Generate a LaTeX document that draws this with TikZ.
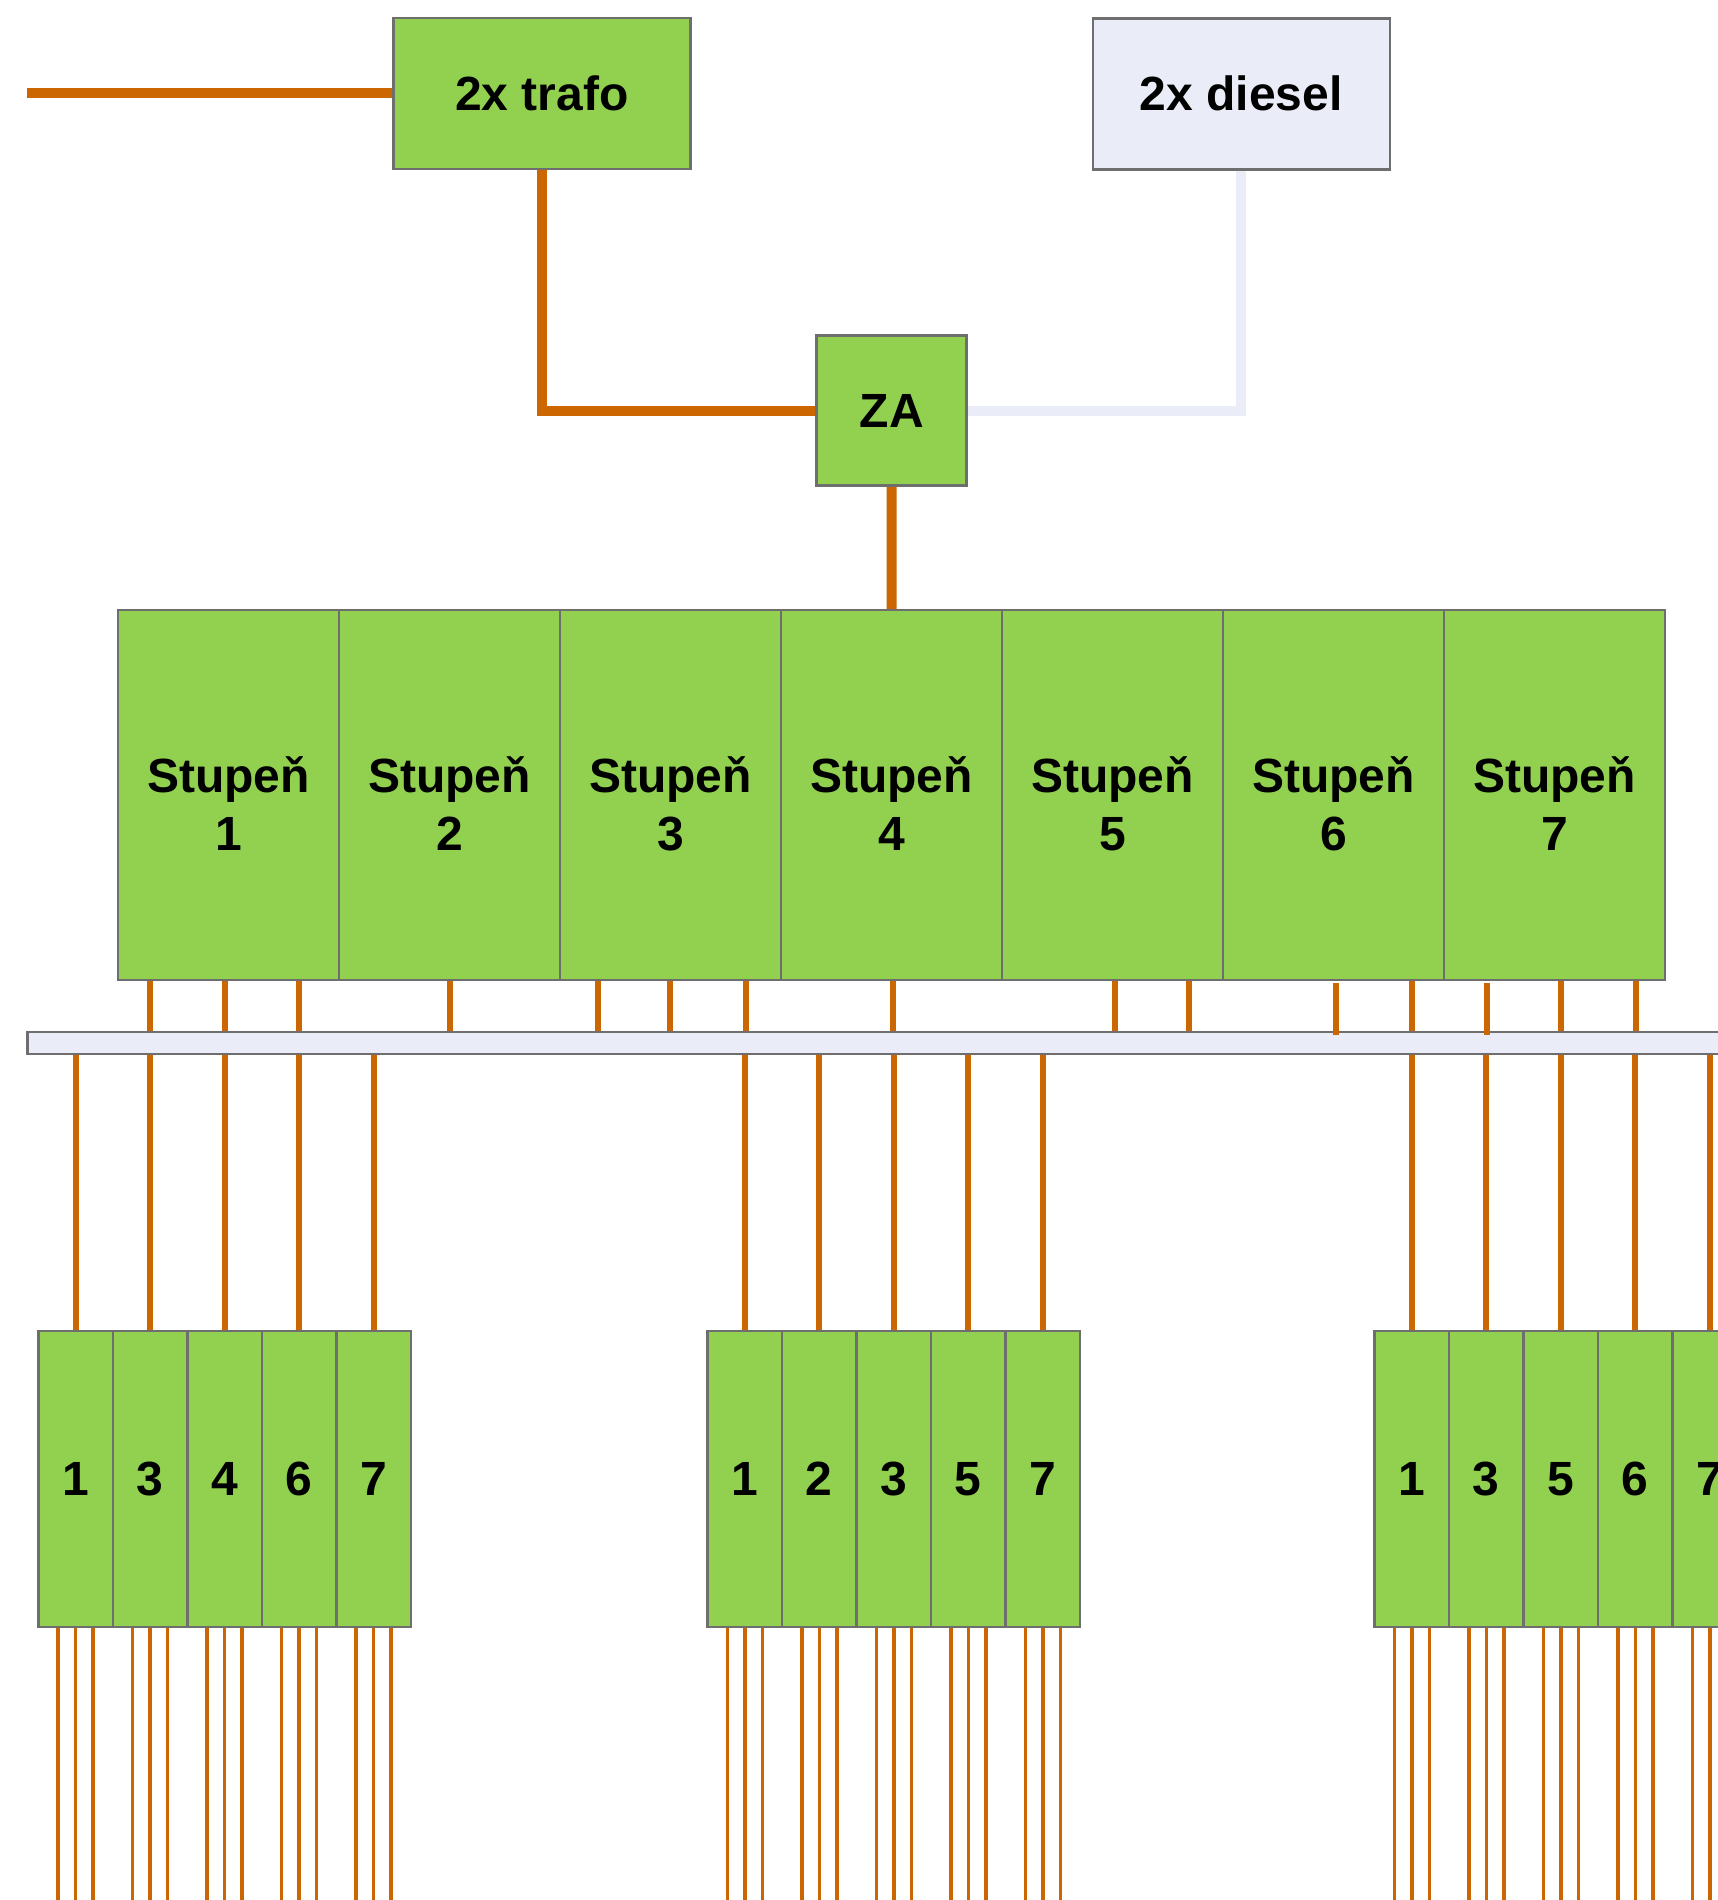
\documentclass[tikz,border=0pt]{standalone}
\usepackage{fontspec}
\setmainfont{Liberation Sans}
\usetikzlibrary{calc,backgrounds}
\definecolor{zgreen}{HTML}{92D050}
\definecolor{zorange}{HTML}{CC6600}
\definecolor{zlav}{HTML}{EAEDF8}
\definecolor{zgray}{HTML}{6E6E6E}
\begin{document}
\begin{tikzpicture}[x=1pt,y=-1pt,
  box/.style={draw=zgray,line width=2.5pt,inner sep=0pt,outer sep=0pt,font=\fontsize{48}{58}\selectfont\bfseries},
  gbox/.style={box,fill=zgreen},
  lbox/.style={box,fill=zlav},
  cell/.style={gbox,minimum width=74.5pt,minimum height=296pt},
  stage/.style={gbox,minimum width=221pt,minimum height=370pt},
  txt/.style={inner sep=0pt,align=center,font=\fontsize{48}{58}\selectfont\bfseries},
  mainline/.style={draw=zorange,line width=10pt},
  dieselline/.style={draw=zlav,line width=10pt},
  stub/.style={draw=zorange,line width=6pt},
  fan/.style={draw=zorange,line width=3.5pt},
]
\useasboundingbox (0,0) rectangle (1718,1900);

% top boxes
\node[gbox,minimum width=297pt,minimum height=151pt] (trafo) at (542,93.5) {2x trafo};
\node[lbox,minimum width=297pt,minimum height=151pt] (diesel) at (1241.3,93.8) {2x diesel};
\node[gbox,minimum width=150pt,minimum height=150pt] (za) at (891.7,410.7) {ZA};
\coordinate (in0) at (27.4,93.5);

% stages
\foreach \i in {1,...,7} {
  \node[stage] (s\i) at ({118+221*(\i-0.5)},795) {};
  \node[txt] (t\i) at ({118+221*(\i-0.5)},804) {Stupeň\\\i};
}

% bus bar
\node[lbox,minimum width=1720pt,minimum height=22pt] (bus) at (887.5,1043) {};

% groups of cells
\foreach \lab [count=\k] in {1,3,4,6,7}
  \node[cell] (g1c\k) at ({38.3+74.5*(\k-0.5)},1479) {\lab};
\foreach \lab [count=\k] in {1,2,3,5,7}
  \node[cell] (g2c\k) at ({707.5+74.5*(\k-0.5)},1479) {\lab};
\foreach \lab [count=\k] in {1,3,5,6,7}
  \node[cell] (g3c\k) at ({1374.5+74.5*(\k-0.5)},1479) {\lab};

\begin{pgfonlayer}{background}
  \draw[mainline] (in0) -- (trafo.west);
  \draw[mainline,line join=miter] (trafo.south) |- (za.west);
  \draw[dieselline,line join=miter] (diesel.south) |- (za.east);
  \draw[mainline] (za.south) -- (s4.north);
  % stubs from stages to bus
  \foreach \s/\x in {1/150.3,1/224.9,1/299,2/449.7,3/598.4,3/670.2,3/745.9,4/893.4,5/1115,5/1188.9,6/1412,7/1561,7/1636} {
    \coordinate (sx) at (\x,0);
    \draw[stub] (s\s.south -| sx) -- (bus.north -| sx);
  }
  % bus to cells and fan-out lines
  \foreach \g in {1,2,3} {
    \foreach \k in {1,...,5} {
      \draw[stub] (bus.south -| g\g c\k.north) -- (g\g c\k.north);
      \foreach \d in {-17.5,0,17.5}
        \draw[fan] ([xshift=\d]g\g c\k.south) -- ++(0,290);
    }
  }
\end{pgfonlayer}
% two slightly offset stubs
\foreach \s/\x in {6/1335.5,7/1487} {
  \coordinate (sx) at (\x,0);
  \draw[stub] ($(s\s.south -| sx)+(0,3)$) -- ($(bus.north -| sx)+(0,3)$);
}
\end{tikzpicture}
\end{document}
